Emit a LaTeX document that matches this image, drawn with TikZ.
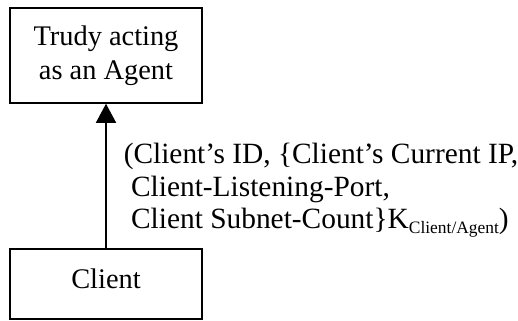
\documentclass[tikz,border=0pt]{standalone}
\usepackage{fontspec}
\setmainfont{Liberation Serif}
\usetikzlibrary{arrows.meta}
\newcommand{\subtxt}[1]{\raisebox{-5bp}{\fontsize{17.5}{17.5}\selectfont #1}}
\begin{document}
\begin{tikzpicture}[x=1bp,y=-1bp,line width=1.5bp,
  box/.style={draw,minimum width=192bp,inner sep=0pt,align=center},
  txt/.style={font=\fontsize{28.5}{34}\selectfont},
  msgtxt/.style={font=\fontsize{29.5}{33}\selectfont,align=left,inner sep=0pt}]
\useasboundingbox (0,0) rectangle (518,320);
\node[box,minimum height=95bp,txt] (trudy) at (106,55.5) {Trudy acting\\as an Agent};
\node[box,minimum height=70bp] (client) at (106,284) {};
\node[txt,anchor=base,inner sep=0pt] (clienttxt) at (106,288) {Client};
\draw[-{Triangle[length=19bp,width=20bp]}] (client.north) -- (trudy.south);
\node[msgtxt,anchor=north west] (msg) at (123,142) {(Client’s ID, \{Client’s Current IP,\\
\mbox{}\ Client-Listening-Port,\\
\mbox{}\ Client Subnet-Count\}K\subtxt{Client/Agent})};
\end{tikzpicture}
\end{document}
